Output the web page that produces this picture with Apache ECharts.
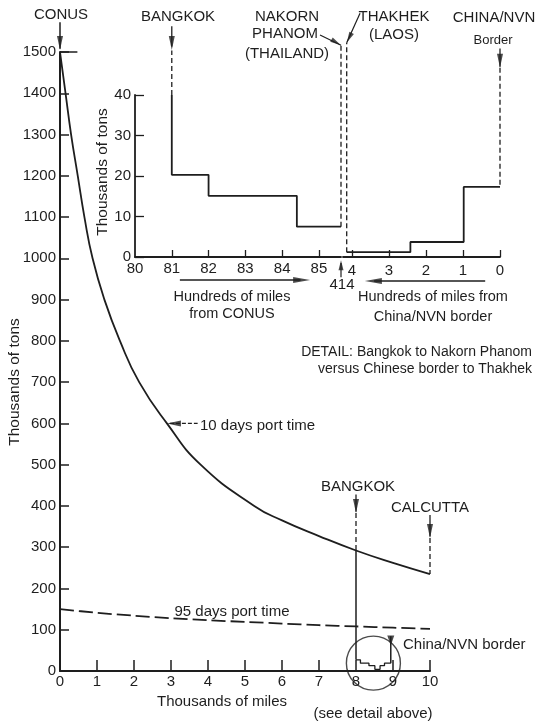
<!DOCTYPE html>
<html>
<head>
<meta charset="utf-8">
<script src="https://cdn.jsdelivr.net/npm/echarts@6/dist/echarts.min.js"></script>
<style>
  html, body { margin: 0; padding: 0; background: #fff; }
  #chart { width: 542px; height: 723px; }
</style>
</head>
<body>
<div id="chart"></div>
<script>
// ---- Main chart: thousands of miles from CONUS vs thousands of tons ----
const milesK10Day = [0, 0.15, 0.3, 0.48, 0.66, 0.88, 1.2, 1.62, 2.14, 2.89, 3.8, 5.25, 6.0, 7.0, 8.0, 9.0, 10.0];
const tons10Day   = [1500, 1400, 1300, 1200, 1100, 1000, 900, 800, 700, 600, 500, 400, 365, 327, 292, 262, 235];

const milesK95Day = [0, 1, 2, 3, 4, 5, 6, 7, 8, 9, 10];
const tons95Day   = [150, 141, 134, 128, 123, 119, 115, 111, 108, 105, 102];

// Small stair inside the circle (Bangkok ... China/NVN border)
const miniStepMiles = [8.0, 8.12, 8.35, 8.51, 8.65, 8.77, 8.94];
const miniStepTons  = [27, 19, 13, 4, 13, 19, 19];

// Place markers on the main chart (thousands of miles)
const conusK = 0, bangkokK = 8, calcuttaK = 10, borderK = 8.94;
const bangkokTonsOnCurve = 292, calcuttaTonsOnCurve = 235;

// ---- Detail: Bangkok to Nakorn Phanom (hundreds of miles from CONUS) ----
const detailConusMiles = [81, 81, 82, 84.4, 85.6];
const detailConusTons  = [40, 20.3, 15.1, 7.5, 7.5];
// ---- Detail: Thakhek to China/NVN border (hundreds of miles from border) ----
const detailBorderMiles = [4.14, 2.42, 0.98, 0];
const detailBorderTons  = [1.2, 3.7, 17.3, 17.3];
const nakornPhanom = 85.6, thakhek = 4.14, bangkokDetail = 81, borderDetail = 0;

// Tick labels
const mainXTicks = [0, 1, 2, 3, 4, 5, 6, 7, 8, 9, 10];
const mainYTicks = [0, 100, 200, 300, 400, 500, 600, 700, 800, 900, 1000, 1100, 1200, 1300, 1400, 1500];
const detailConusTicks = [80, 81, 82, 83, 84, 85];
const detailBorderTicks = [0, 1, 2, 3, 4];
const detailYTicks = [0, 10, 20, 30, 40];

const INK = '#1e1e1e';
const FONT = '"Liberation Sans", Arial, sans-serif';

const zip = (xs, ys) => xs.map((x, i) => [x, ys[i]]);
const plain = v => String(v);

function seg(grid, pts, o = {}) {
  return {
    type: 'line', xAxisIndex: grid, yAxisIndex: grid, data: pts,
    symbol: 'none', clip: false, silent: true, z: o.z || 3,
    smooth: o.smooth || false,
    step: o.step || false,
    lineStyle: { color: INK, width: o.width || 1.5, type: o.dash || 'solid', cap: 'butt' }
  };
}

// Slender arrowheads; rot in degrees (0 = pointing up, counter-clockwise)
function heads(grid, list) {
  return {
    type: 'scatter', xAxisIndex: grid, yAxisIndex: grid, clip: false, silent: true, z: 5,
    symbol: 'path://M5,0 L10,26 L0,26 Z',
    itemStyle: { color: INK },
    data: list.map(h => {
      const size = h.size || [6, 14];
      const r = h.rot * Math.PI / 180;
      const half = size[1] / 2;
      return {
        value: h.at, symbolSize: size, symbolRotate: h.rot,
        symbolOffset: [half * Math.sin(r), half * Math.cos(r)]
      };
    })
  };
}

function axisCommon(extra) {
  return Object.assign({
    type: 'value',
    splitLine: { show: false },
    axisLine: { show: true, onZero: false, lineStyle: { color: INK, width: 2 } },
    axisTick: { show: true, inside: true, lineStyle: { color: INK, width: 1.5 } },
    axisLabel: { show: true, color: INK, fontSize: 15, fontFamily: FONT, formatter: plain }
  }, extra);
}

function txt(s, x, y, o = {}) {
  const align = o.align || 'center';
  return {
    type: 'text', x, y, rotation: o.rot || 0, silent: true, z: 10,
    style: {
      text: s, fill: INK, font: `${o.size || 15}px ${FONT}`,
      align, verticalAlign: 'middle', textAlign: align, textVerticalAlign: 'middle'
    }
  };
}

const series = [
  // main curves
  seg(0, zip(milesK10Day, tons10Day), { smooth: 0.5, width: 1.8 }),
  seg(0, zip(milesK95Day, tons95Day), { smooth: 0.3, width: 1.8, dash: [14, 5] }),
  // 1500 tick extension
  seg(0, [[0, 1500], [0.47, 1500]], { width: 1.5 }),
  // CONUS arrow shaft
  seg(0, [[conusK, 1572], [conusK, 1508]], { width: 1.5 }),
  // Bangkok marker on main chart
  seg(0, [[bangkokK, 428], [bangkokK, 386]], { width: 1.3 }),
  seg(0, [[bangkokK, 383], [bangkokK, bangkokTonsOnCurve]], { width: 1.3, dash: [5, 3] }),
  seg(0, [[bangkokK, bangkokTonsOnCurve], [bangkokK, miniStepTons[0]]], { width: 1.5 }),
  // Calcutta marker
  seg(0, [[calcuttaK, 378], [calcuttaK, 326]], { width: 1.3 }),
  seg(0, [[calcuttaK, 322], [calcuttaK, calcuttaTonsOnCurve]], { width: 1.3, dash: [5, 3] }),
  // 10 days label pointer
  seg(0, [[2.97, 600], [3.72, 600]], { width: 1.3, dash: [4, 2] }),
  // mini stair and border riser
  seg(0, zip(miniStepMiles, miniStepTons), { step: 'end', width: 1.3 }),
  seg(0, [[borderK, miniStepTons[miniStepTons.length - 1]], [borderK, 84]], { width: 1.5 }),
  // circle around the detail area
  {
    type: 'scatter', xAxisIndex: 0, yAxisIndex: 0, clip: false, silent: true, z: 4,
    symbol: 'circle', symbolSize: 54,
    itemStyle: { color: 'rgba(0,0,0,0)', borderColor: INK, borderWidth: 1.4 },
    data: [[8.47, 19]]
  },
  heads(0, [
    { at: [conusK, 1505], rot: 180 },
    { at: [bangkokK, 383], rot: 180 },
    { at: [calcuttaK, 322], rot: 180 },
    { at: [2.89, 600], rot: 90 },
    { at: [borderK, 62], rot: 180, size: [7, 10] }
  ]),

  // ---- detail, left half ----
  seg(1, zip(detailConusMiles, detailConusTons), { step: 'end', width: 1.8 }),
  seg(1, [[bangkokDetail, 40], [bangkokDetail, 51]], { width: 1.3, dash: [5, 3] }),
  seg(1, [[bangkokDetail, 57], [bangkokDetail, 52]], { width: 1.3 }),
  seg(1, [[nakornPhanom, detailConusTons[detailConusTons.length - 1]], [nakornPhanom, 52.3]], { width: 1.3, dash: [5, 3] }),
  seg(1, [[85.03, 54.8], [nakornPhanom, 52.3]], { width: 1.2 }),
  seg(1, [[nakornPhanom, -5], [nakornPhanom, -1.5]], { width: 1.2 }),
  seg(1, [[81.22, -5.7], [84.5, -5.7]], { width: 1.5 }),
  heads(1, [
    { at: [bangkokDetail, 51.1], rot: 180 },
    { at: [nakornPhanom, 52.3], rot: -120, size: [5, 11] },
    { at: [nakornPhanom, -0.8], rot: 0, size: [5, 10] },
    { at: [84.76, -5.7], rot: -90, size: [6, 17] }
  ]),

  // ---- detail, right half ----
  seg(2, zip(detailBorderMiles, detailBorderTons), { step: 'end', width: 1.8 }),
  seg(2, [[thakhek, detailBorderTons[0]], [thakhek, 52.9]], { width: 1.3, dash: [5, 3] }),
  seg(2, [[3.78, 60.2], [thakhek, 52.9]], { width: 1.2 }),
  seg(2, [[borderDetail, 46.7], [borderDetail, detailBorderTons[detailBorderTons.length - 1]]], { width: 1.3, dash: [5, 3] }),
  seg(2, [[borderDetail, 51.5], [borderDetail, 47]], { width: 1.3 }),
  seg(2, [[0.4, -5.9], [3.4, -5.9]], { width: 1.5 }),
  heads(2, [
    { at: [thakhek, 52.9], rot: 153.4, size: [5, 11] },
    { at: [borderDetail, 46.7], rot: 180 },
    { at: [3.65, -5.9], rot: 90, size: [6, 17] }
  ])
];

const option = {
  animation: false,
  backgroundColor: '#ffffff',
  grid: [
    { left: 60, top: 52, width: 370, height: 619 },
    { left: 135, top: 95, width: 206, height: 162 },
    { left: 343, top: 95, width: 157, height: 162 }
  ],
  xAxis: [
    axisCommon({
      gridIndex: 0, min: 0, max: 10, interval: 1,
      axisTick: { show: true, inside: true, length: 11, lineStyle: { color: INK, width: 1.5 }, customValues: mainXTicks },
      axisLabel: { color: INK, fontSize: 15, fontFamily: FONT, margin: 3, formatter: plain, customValues: mainXTicks }
    }),
    axisCommon({
      gridIndex: 1, min: 80, max: 85.6, interval: 1,
      axisLine: { show: true, onZero: false, lineStyle: { color: INK, width: 1.8 } },
      axisTick: { show: true, inside: true, length: 7, lineStyle: { color: INK, width: 1.3 }, customValues: detailConusTicks.slice(1) },
      axisLabel: { color: INK, fontSize: 15, fontFamily: FONT, margin: 4, formatter: plain, customValues: detailConusTicks }
    }),
    axisCommon({
      gridIndex: 2, min: 0, max: 4.24, interval: 1, inverse: true,
      axisLine: { show: true, onZero: false, lineStyle: { color: INK, width: 1.8 } },
      axisTick: { show: true, inside: true, length: 7, lineStyle: { color: INK, width: 1.3 }, customValues: detailBorderTicks },
      axisLabel: { color: INK, fontSize: 15, fontFamily: FONT, margin: 6, formatter: plain, customValues: detailBorderTicks }
    })
  ],
  yAxis: [
    axisCommon({
      gridIndex: 0, min: 0, max: 1500, interval: 100,
      axisTick: { show: true, inside: true, length: 9, lineStyle: { color: INK, width: 1.5 }, customValues: mainYTicks },
      axisLabel: { color: INK, fontSize: 15, fontFamily: FONT, margin: 4, formatter: plain, customValues: mainYTicks }
    }),
    axisCommon({
      gridIndex: 1, min: 0, max: 40, interval: 10,
      axisLine: { show: true, onZero: false, lineStyle: { color: INK, width: 1.8 } },
      axisTick: { show: true, inside: true, length: 9, lineStyle: { color: INK, width: 1.3 }, customValues: detailYTicks },
      axisLabel: { color: INK, fontSize: 15, fontFamily: FONT, margin: 4, formatter: plain, customValues: detailYTicks }
    }),
    { type: 'value', gridIndex: 2, min: 0, max: 40, show: false }
  ],
  series,
  graphic: [
    txt('CONUS', 61, 15),
    txt('BANGKOK', 178, 17),
    txt('NAKORN', 287, 17),
    txt('PHANOM', 285, 34),
    txt('(THAILAND)', 287, 54),
    txt('THAKHEK', 394, 17),
    txt('(LAOS)', 394, 35),
    txt('CHINA/NVN', 494, 18),
    txt('Border', 493, 40, { size: 13 }),
    txt('Thousands of tons', 103, 172, { rot: Math.PI / 2, size: 15.5 }),
    txt('414', 342, 285),
    txt('Hundreds of miles', 232, 297, { size: 14.5 }),
    txt('from CONUS', 232, 314, { size: 14.5 }),
    txt('Hundreds of miles from', 433, 297, { size: 14.5 }),
    txt('China/NVN border', 433, 317, { size: 14.5 }),
    txt('DETAIL: Bangkok to Nakorn Phanom', 532, 352, { align: 'right', size: 14 }),
    txt('versus Chinese border to Thakhek', 532, 369, { align: 'right', size: 14 }),
    txt('10 days port time', 200, 426, { align: 'left' }),
    txt('BANGKOK', 358, 487),
    txt('CALCUTTA', 430, 508),
    txt('95 days port time', 232, 612),
    txt('China/NVN border', 403, 645, { align: 'left' }),
    txt('Thousands of miles', 222, 702),
    txt('(see detail above)', 373, 714),
    txt('Thousands of tons', 15, 382, { rot: Math.PI / 2, size: 15.5 })
  ]
};

const chart = echarts.init(document.getElementById('chart'), null, { renderer: 'canvas' });
chart.setOption(option);
</script>
</body>
</html>
